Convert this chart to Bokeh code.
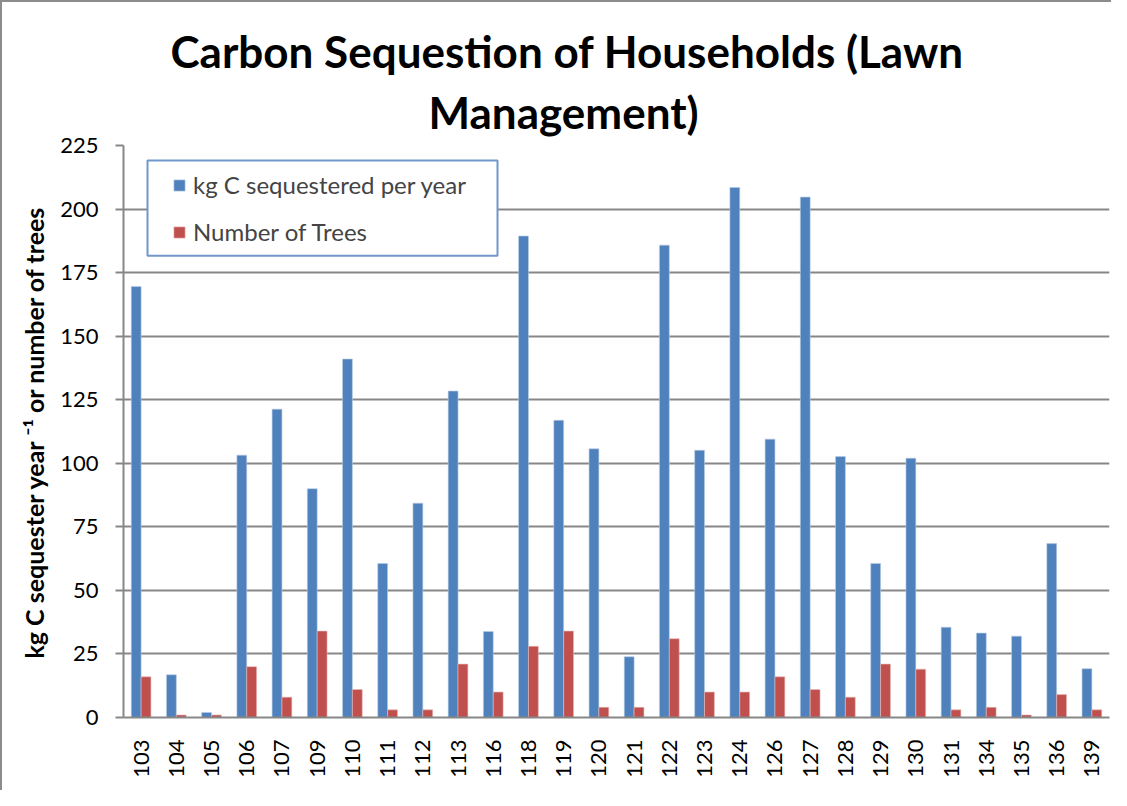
import math
from bokeh.plotting import figure
from bokeh.models import (Range1d, FactorRange, Legend, LegendItem, Title,
                          ColumnDataSource, BoxAnnotation)
from bokeh.transform import dodge
from bokeh.embed import file_html
from bokeh.resources import INLINE

households = ["103", "104", "105", "106", "107", "109", "110", "111", "112", "113",
              "116", "118", "119", "120", "121", "122", "123", "124", "126", "127",
              "128", "129", "130", "131", "134", "135", "136", "139"]
carbon = [169.5, 16.8, 2, 103.2, 121.3, 90, 141, 60.6, 84.3, 128.4,
          33.8, 189.4, 116.9, 105.7, 23.9, 185.8, 105.1, 208.5, 109.5, 204.7,
          102.7, 60.6, 102, 35.5, 33.2, 32, 68.4, 19.2]
trees = [16, 1, 1, 20, 8, 34, 11, 3, 3, 21,
         10, 28, 34, 4, 4, 31, 10, 10, 16, 11,
         8, 21, 19, 3, 4, 1, 9, 3]
y_ticks = [0, 25, 50, 75, 100, 125, 150, 175, 200, 225]

FONT = "Lato"
GRID = "#878787"

src = ColumnDataSource(dict(h=households, carbon=carbon, trees=trees))

p = figure(width=1111, height=790, x_range=FactorRange(*households),
           y_range=Range1d(0, 225), output_backend="svg", toolbar_location=None,
           min_border_left=121, min_border_right=4, min_border_top=143,
           min_border_bottom=75)
p.outline_line_color = None

p.title.text = "Carbon Sequestion of Households (Lawn"
p.title.text_font = FONT
p.title.text_font_size = "44px"
p.title.text_font_style = "bold"
p.title.text_color = "black"
p.title.align = "left"
p.title.offset = 47
p.title.standoff = 0
p.add_layout(Title(text="Management)", text_font=FONT, text_color="black",
                   text_font_size="44px", text_font_style="bold", align="left",
                   offset=305, standoff=15), "above")

b1 = p.vbar(x=dodge("h", -0.14, range=p.x_range), top="carbon", width=0.28, source=src,
            fill_color="#4F81BD", line_color="#B9CDE5", line_width=0.6)
b2 = p.vbar(x=dodge("h", 0.14, range=p.x_range), top="trees", width=0.28, source=src,
            fill_color="#C0504D", line_color="#E6B9B8", line_width=0.6)

p.yaxis.ticker = y_ticks
p.yaxis.axis_label = "kg C sequester year \u207b\u00b9 or number of trees"
p.yaxis.axis_label_text_font = FONT
p.yaxis.axis_label_text_font_size = "25px"
p.yaxis.axis_label_text_font_style = "bold"
p.yaxis.axis_label_text_color = "black"
p.yaxis.axis_label_standoff = 8
p.yaxis.major_label_text_font = FONT
p.yaxis.major_label_text_font_size = "22px"
p.yaxis.major_label_text_color = "black"
p.yaxis.major_label_standoff = 17
p.yaxis.major_tick_out = 8
p.yaxis.major_tick_in = 0
p.yaxis.minor_tick_line_color = None
p.yaxis.axis_line_color = GRID
p.yaxis.axis_line_width = 2
p.yaxis.major_tick_line_color = GRID
p.yaxis.major_tick_line_width = 2

p.xaxis.major_label_orientation = math.pi / 2
p.xaxis.major_label_text_font = FONT
p.xaxis.major_label_text_font_size = "22px"
p.xaxis.major_label_text_color = "black"
p.xaxis.major_label_standoff = 16
p.xaxis.major_tick_line_color = None
p.xaxis.axis_line_color = GRID
p.xaxis.axis_line_width = 2

p.xgrid.grid_line_color = None
p.ygrid.grid_line_color = GRID
p.ygrid.grid_line_width = 2

# legend frame (white box with blue border); x in frame pixels, y in data units
legend_box = BoxAnnotation(left=24, right=374, left_units="screen", right_units="screen",
                           top=219.1, bottom=181.6, top_units="data", bottom_units="data",
                           fill_color="white", fill_alpha=1,
                           line_color="#6F97CB", line_width=2, line_alpha=1)
p.add_layout(legend_box)

legend = Legend(items=[LegendItem(label="kg C sequestered per year", renderers=[b1]),
                       LegendItem(label="Number of Trees", renderers=[b2])],
                location=(49, 471), label_text_font=FONT, label_text_font_size="24px",
                label_height=22, glyph_width=14, glyph_height=14,
                label_standoff=7, spacing=18, padding=0,
                border_line_color=None, background_fill_alpha=0)
p.add_layout(legend, "center")

p.styles = {"border-left": "2px solid #8C8C8C", "border-top": "2px solid #8C8C8C",
            "box-sizing": "border-box"}

open("out.html", "w").write(file_html(p, INLINE))
